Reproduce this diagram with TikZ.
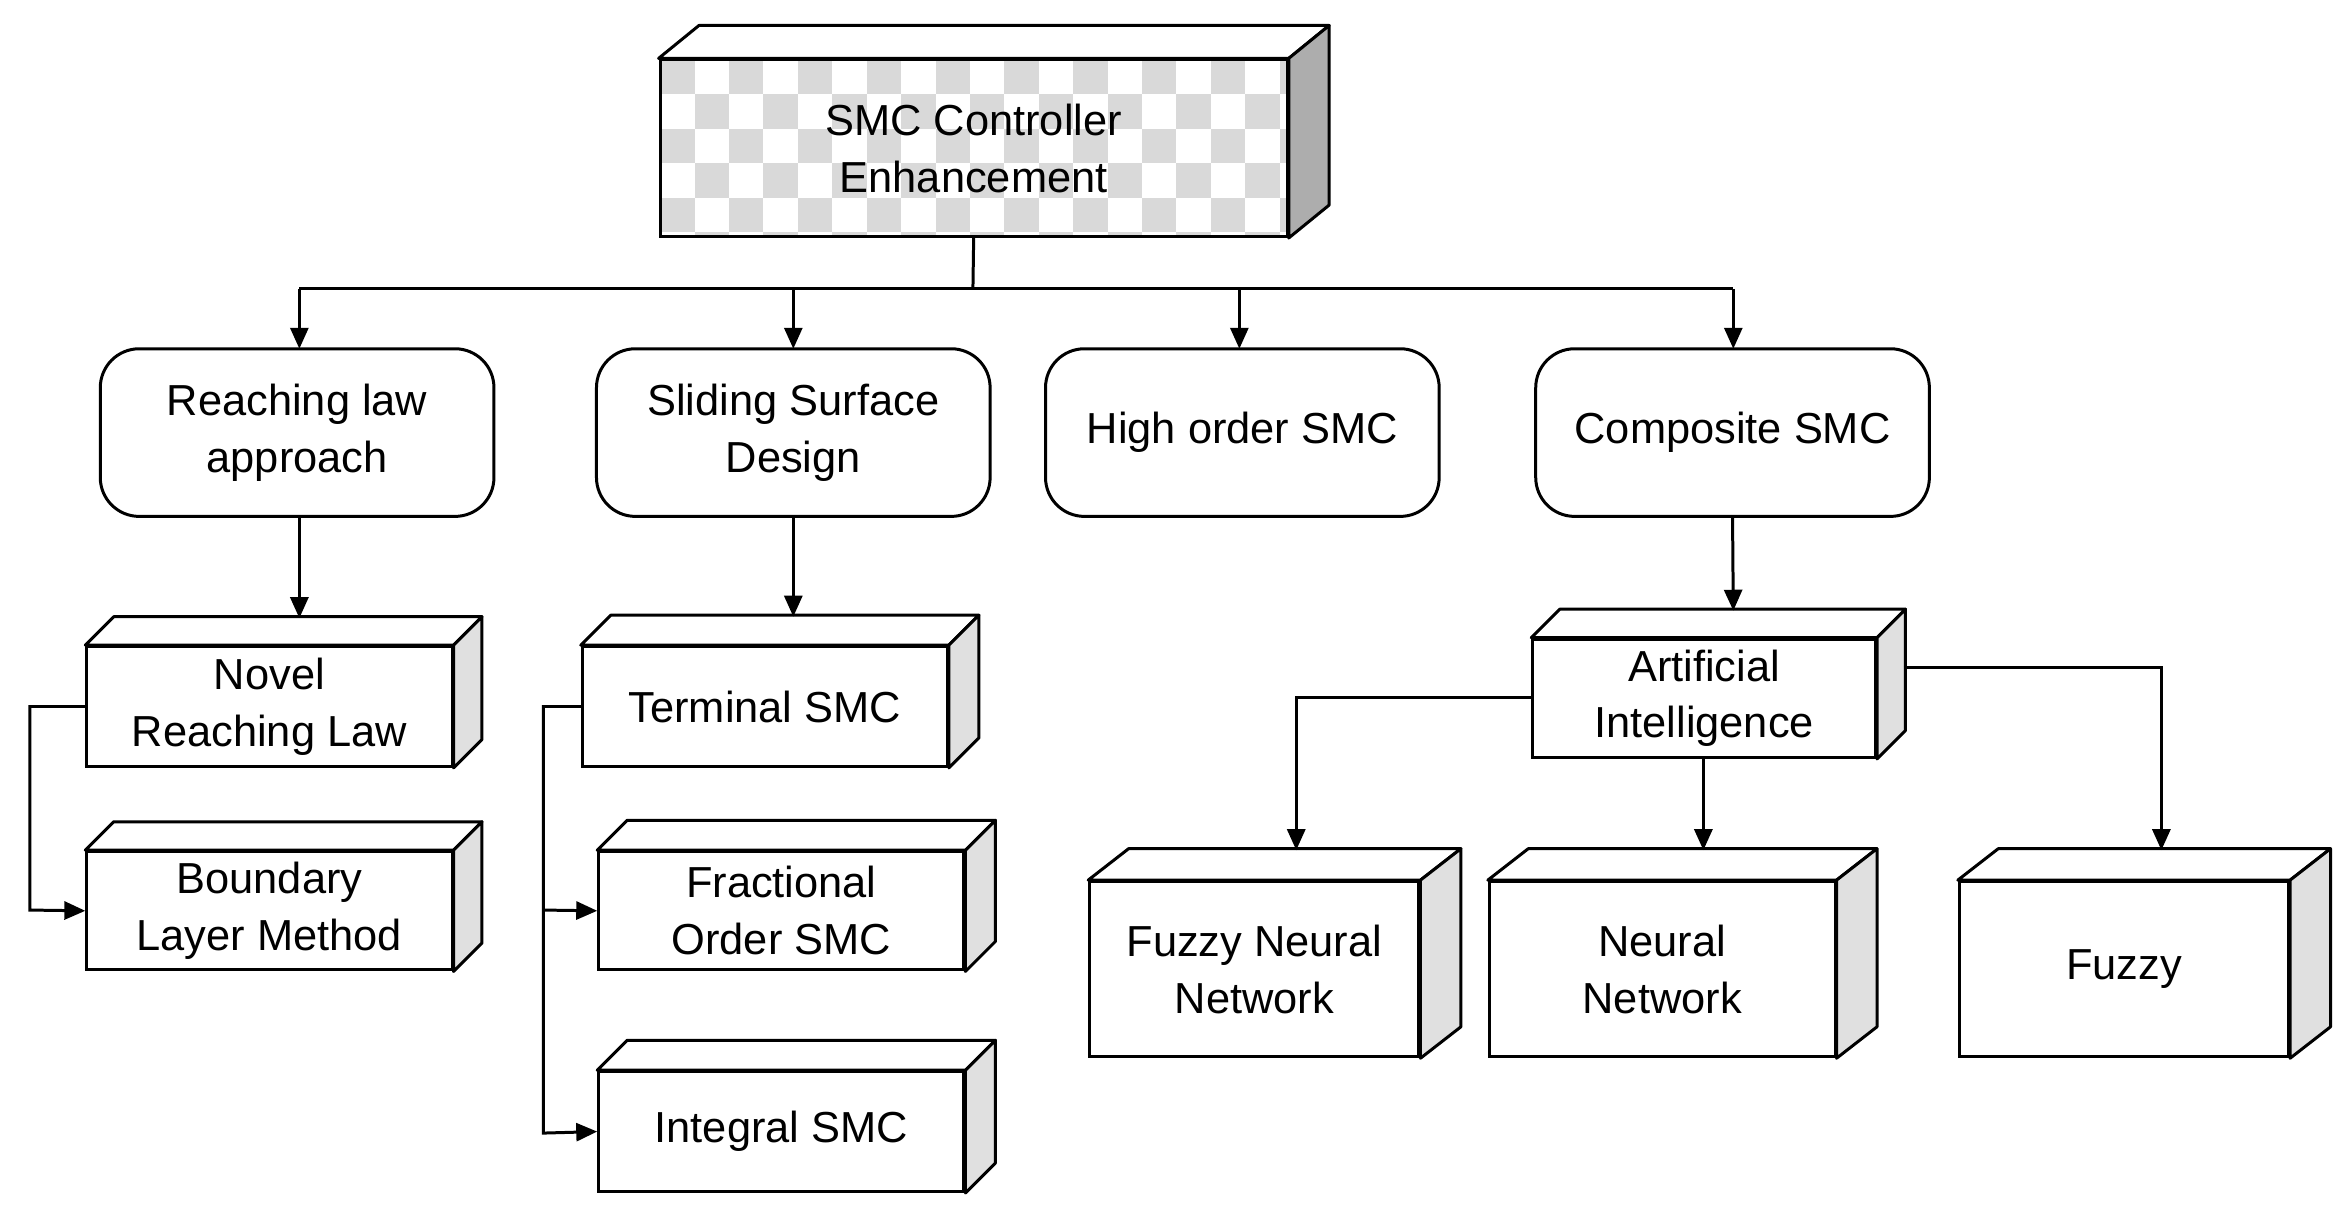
\documentclass[tikz,border=0pt]{standalone}
\usepackage{fontspec}
\setmainfont{Liberation Sans}
\usetikzlibrary{arrows.meta,calc}
\newcommand{\cbox}[9]{%
 \node[box,minimum width={#4-#2},minimum height={#5-#3}] (#1) at ({(#2+#4)/2},{(#3+#5)/2}) {#8};
 \draw[line width=2pt,line join=round] (#1.north west) -- ++(#6,-#7) -- ($(#1.north east)+(#6,-#7)$) -- (#1.north east) -- cycle;
 \filldraw[line width=2pt,line join=round,fill=#9] (#1.north east) -- ++(#6,-#7) -- ($(#1.south east)+(#6,-#7)$) -- (#1.south east) -- cycle;
}
\begin{document}
\begin{tikzpicture}[x=1pt,y=-1pt,
 box/.style={draw,line width=2pt,inner sep=0pt,align=center,font=\fontsize{29}{38}\selectfont},
 rbox/.style={box,rounded corners=26pt,minimum width=263pt,minimum height=112pt},
 arr/.style={line width=2pt,-{Triangle[length=14pt,width=12pt]}},
 ln/.style={line width=2pt}]
\useasboundingbox (0,0) rectangle (1560,814);
% top box with checker
\begin{scope}
\clip (441,40) rectangle (860,158);
\foreach \i in {0,...,18}{\foreach \j in {0,...,5}{
 \pgfmathtruncatemacro{\chk}{mod(\i+\j,2)}
 \ifnum\chk=0 \fill[black!15] ({441+23*\i},{40+23*\j}) rectangle ++(23,23);\fi}}
\end{scope}
\node[box,minimum width=419pt,minimum height=118pt] (top) at (650.5,99) {SMC Controller\\Enhancement};
\draw[line width=2pt,line join=round] (top.north west) -- ++(27,-22) -- ($(top.north east)+(27,-22)$) -- (top.north east) -- cycle;
\filldraw[line width=2pt,line join=round,fill=black!32] (top.north east) -- ++(27,-22) -- ($(top.south east)+(27,-22)$) -- (top.south east) -- cycle;
% rounded
\node[rbox] (reach) at (198.5,289) {Reaching law\\approach};
\node[rbox] (slide) at (530,289) {Sliding Surface\\Design};
\node[rbox] (high) at (830,289) {High order SMC};
\node[rbox] (comp) at (1157.5,289) {Composite SMC};
% 3d boxes
\cbox{novel}{58}{432}{302}{512}{19}{19}{Novel\\Reaching Law}{black!12}
\cbox{bound}{58}{569}{302}{648}{19}{19}{Boundary\\Layer Method}{black!12}
\cbox{term}{389}{432}{633}{512}{20}{20}{Terminal SMC}{black!12}
\cbox{frac}{400}{569}{644}{648}{20}{20}{Fractional\\Order SMC}{black!12}
\cbox{integ}{400}{716}{644}{796}{20}{20}{Integral SMC}{black!12}
\cbox{ai}{1024}{427}{1253}{506}{19}{19}{Artificial\\Intelligence}{black!12}
\cbox{fnn}{728}{589}{948}{706}{27}{21}{Fuzzy Neural\\Network}{black!12}
\cbox{nn}{995}{589}{1226}{706}{27}{21}{Neural\\Network}{black!12}
\cbox{fz}{1309}{589}{1529}{706}{27}{21}{Fuzzy}{black!12}
% connectors
\coordinate (bus) at (650,193);
\draw[ln] (top.south) -- (bus);
\draw[ln] (200,193) -- (1158,193);
\draw[arr] (200,193) -- (200,233);
\draw[arr] (530,193) -- (530,233);
\draw[arr] (828,193) -- (828,233);
\draw[arr] (1158,193) -- (1158,233);
\draw[arr] (200,345) -- (200,413);
\draw[arr] (slide.south) -- (530,412);
\draw[arr] (comp.south) -- (1158,408);
\draw[arr] (novel.west) -- (20,472) -- (20,608) -- (bound.west);
\draw[arr] (term.west) -- (363,472) -- (363,757) -- (integ.west);
\draw[arr] (363,608) -- (frac.west);
\draw[arr] (1024,466) -- (866,466) -- (866,568);
\draw[arr] (1138,506) -- (1138,568);
\draw[arr] (1272,446) -- (1444,446) -- (1444,568);
\end{tikzpicture}
\end{document}
